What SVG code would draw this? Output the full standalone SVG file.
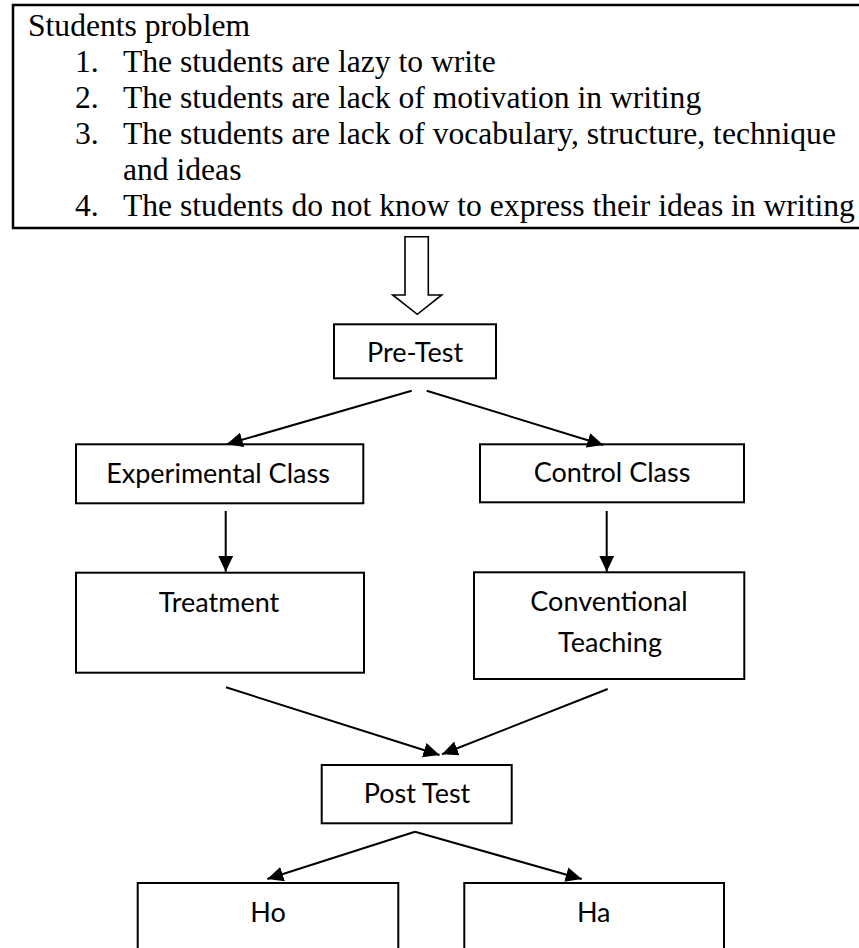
<svg xmlns="http://www.w3.org/2000/svg" width="859" height="948" viewBox="0 0 859 948">
<style>
.bx{fill:#fff;stroke:#000;stroke-width:2}
.ser{font-family:"Liberation Serif","Times New Roman",serif;font-size:31.6px;fill:#000}
.lbl{font-family:Lato,"Noto Sans",sans-serif;font-size:27px;fill:#000;text-anchor:middle}
.cn line{stroke:#000;stroke-width:2;fill:none}
</style>
<defs>
<marker id="ah" markerUnits="userSpaceOnUse" markerWidth="18" markerHeight="16" refX="16" refY="7.5" orient="auto">
<path d="M0,0 L16,7.5 L0,15 z" fill="#000"/>
</marker>
</defs>
<rect width="859" height="948" fill="#fff"/>
<g id="problem">
<path d="M880,5 L13,5 L13,228 L880,228" fill="none" stroke="#000" stroke-width="2.5"/>
<text class="ser" x="28" y="35.5">Students problem</text>
<text class="ser" x="75" y="71.5">1.</text>
<text class="ser" x="123" y="71.5">The students are lazy to write</text>
<text class="ser" x="75" y="107.5">2.</text>
<text class="ser" x="123" y="107.5">The students are lack of motivation in writing</text>
<text class="ser" x="75" y="143.5">3.</text>
<text class="ser" x="123" y="143.5">The students are lack of vocabulary, structure, technique</text>
<text class="ser" x="123" y="180">and ideas</text>
<text class="ser" x="75" y="216">4.</text>
<text class="ser" x="123" y="216">The students do not know to express their ideas in writing</text>
</g>
<g id="pretest">
<rect class="bx" x="334" y="324.3" width="162" height="54"/>
<text class="lbl" x="415" y="361.7">Pre-Test</text>
</g>
<g id="experimental">
<rect class="bx" x="76" y="444.3" width="287.3" height="59"/>
<text class="lbl" x="218" y="483.3">Experimental Class</text>
</g>
<g id="control">
<rect class="bx" x="480" y="444.3" width="264" height="58"/>
<text class="lbl" x="612" y="482.3">Control Class</text>
</g>
<g id="treatment">
<rect class="bx" x="76" y="572.7" width="288" height="100"/>
<text class="lbl" x="219" y="612.3">Treatment</text>
</g>
<g id="conventional">
<rect class="bx" x="474" y="572.3" width="270.3" height="106.7"/>
<text class="lbl" x="609" y="611">Conventional</text>
<text class="lbl" x="610" y="651.7">Teaching</text>
</g>
<g id="posttest">
<rect class="bx" x="321.7" y="765" width="190" height="58.3"/>
<text class="lbl" x="417" y="803.3">Post Test</text>
</g>
<g id="ho">
<rect class="bx" x="137.7" y="883" width="260.6" height="80"/>
<text class="lbl" x="268" y="921.7">Ho</text>
</g>
<g id="ha">
<rect class="bx" x="464.3" y="883" width="259.7" height="80"/>
<text class="lbl" x="593.7" y="921.7">Ha</text>
</g>
<g id="connectors" class="cn">
<polygon points="405,236.7 428.3,236.7 428.3,295 441.7,295 417.3,314.3 392.7,295 405,295" fill="#fff" stroke="#000" stroke-width="1.6"/>
<line x1="411.7" y1="390.7" x2="226.7" y2="444.3" marker-end="url(#ah)"/>
<line x1="426.7" y1="390.7" x2="603.3" y2="445" marker-end="url(#ah)"/>
<line x1="225.7" y1="511" x2="225.7" y2="571.7" marker-end="url(#ah)"/>
<line x1="606.7" y1="511" x2="606.7" y2="571.7" marker-end="url(#ah)"/>
<line x1="226" y1="687.3" x2="439.5" y2="755" marker-end="url(#ah)"/>
<line x1="607.7" y1="689" x2="442" y2="754.3" marker-end="url(#ah)"/>
<line x1="415" y1="831.7" x2="267.3" y2="879" marker-end="url(#ah)"/>
<line x1="415" y1="831.7" x2="581.7" y2="879" marker-end="url(#ah)"/>
</g>
</svg>
